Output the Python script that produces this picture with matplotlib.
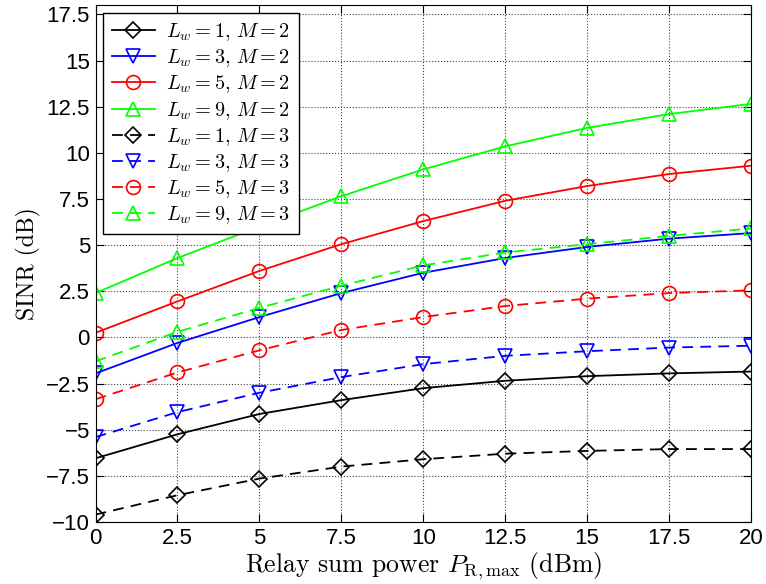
import matplotlib
matplotlib.use('Agg')
import matplotlib.pyplot as plt

plt.rcParams['mathtext.fontset'] = 'cm'
plt.rcParams['font.family'] = ['Liberation Sans', 'DejaVu Sans']

power = [0, 2.5, 5, 7.5, 10, 12.5, 15, 17.5, 20]

sinr_l1_m2 = [-6.55, -5.25, -4.15, -3.4, -2.75, -2.35, -2.1, -1.95, -1.85]
sinr_l3_m2 = [-1.95, -0.3, 1.1, 2.4, 3.5, 4.3, 4.9, 5.35, 5.65]
sinr_l5_m2 = [0.25, 1.95, 3.6, 5.05, 6.3, 7.4, 8.2, 8.85, 9.3]
sinr_l9_m2 = [2.4, 4.3, 6.0, 7.65, 9.1, 10.35, 11.35, 12.1, 12.65]
sinr_l1_m3 = [-9.6, -8.55, -7.65, -7.0, -6.6, -6.3, -6.15, -6.05, -6.05]
sinr_l3_m3 = [-5.4, -4.05, -3.0, -2.15, -1.45, -1.0, -0.75, -0.55, -0.45]
sinr_l5_m3 = [-3.35, -1.9, -0.7, 0.4, 1.1, 1.7, 2.1, 2.4, 2.55]
sinr_l9_m3 = [-1.3, 0.3, 1.6, 2.8, 3.9, 4.6, 5.05, 5.5, 5.9]

xticks = [0, 2.5, 5, 7.5, 10, 12.5, 15, 17.5, 20]
yticks = [-10, -7.5, -5, -2.5, 0, 2.5, 5, 7.5, 10, 12.5, 15, 17.5]

fig = plt.figure(figsize=(7.66, 5.84), dpi=100)
ax = fig.add_axes([0.1247, 0.1062, 0.8557, 0.885])

green = '#00ff00'
series = [
    (sinr_l1_m2, 'k', 'D', '-', r'$L_w = 1,\, M = 2$'),
    (sinr_l3_m2, 'b', 'v', '-', r'$L_w = 3,\, M = 2$'),
    (sinr_l5_m2, 'r', 'o', '-', r'$L_w = 5,\, M = 2$'),
    (sinr_l9_m2, green, '^', '-', r'$L_w = 9,\, M = 2$'),
    (sinr_l1_m3, 'k', 'D', '--', r'$L_w = 1,\, M = 3$'),
    (sinr_l3_m3, 'b', 'v', '--', r'$L_w = 3,\, M = 3$'),
    (sinr_l5_m3, 'r', 'o', '--', r'$L_w = 5,\, M = 3$'),
    (sinr_l9_m3, green, '^', '--', r'$L_w = 9,\, M = 3$'),
]
for vals, c, m, ls, lab in series:
    ms = 8 if m == 'D' else 10
    ax.plot(power, vals, color=c, marker=m, linestyle=ls, markersize=ms,
            markerfacecolor='none', markeredgecolor=c, markeredgewidth=1.2,
            linewidth=1.3, label=lab, dashes=(6, 4) if ls == '--' else (None, None))

ax.set_xlim(0, 20)
ax.set_ylim(-10, 18)
ax.set_xticks(xticks)
ax.set_xticklabels(['0', '2.5', '5', '7.5', '10', '12.5', '15', '17.5', '20'])
ax.set_yticks(yticks)
ax.set_yticklabels(['\u221210', '\u22127.5', '\u22125', '\u22122.5', '0', '2.5', '5', '7.5', '10', '12.5', '15', '17.5'])
ax.tick_params(direction='in', top=True, right=True, labelsize=16, length=6, pad=4)
ax.grid(True, linestyle=':', color='#444444', linewidth=0.8)

ax.set_xlabel(r'Relay sum power $P_{\mathrm{R,max}}$ (dBm)', fontsize=18.5,
              family='cmr10', labelpad=1)
ax.set_ylabel('SINR (dB)', fontsize=17, family='cmr10', labelpad=4)

leg = ax.legend(loc='upper left', prop={'size': 14.6}, numpoints=1, handlelength=2.15,
                fancybox=False, framealpha=1, edgecolor='k', borderaxespad=0.39,
                labelspacing=0.21, handletextpad=0.55, borderpad=0.4)
leg.get_frame().set_linewidth(1.0)

fig.savefig('out.png', dpi=100)
